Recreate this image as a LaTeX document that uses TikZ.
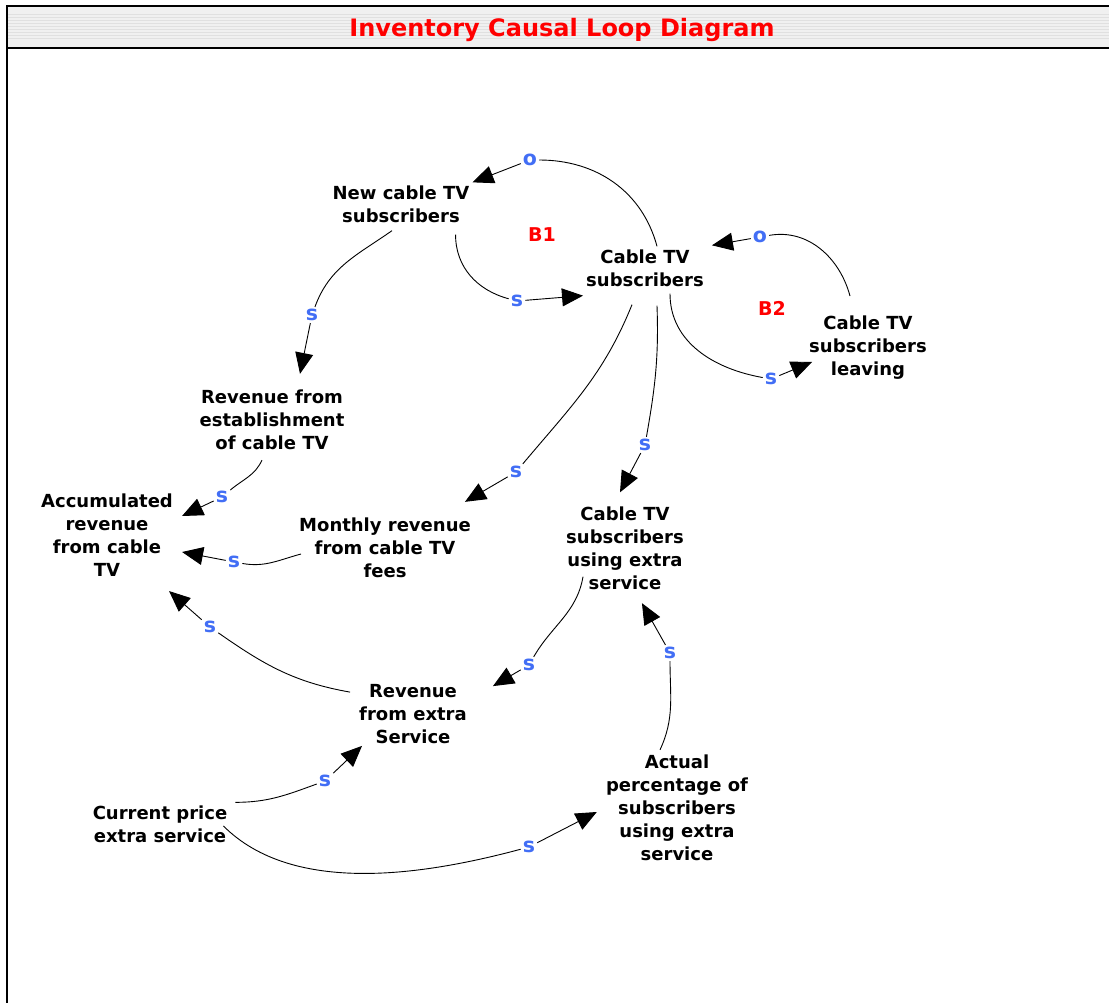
\documentclass[tikz,border=0pt]{standalone}
\usepackage{fontspec}
\setmainfont{DejaVu Sans}
\usetikzlibrary{calc,arrows.meta}
\definecolor{polblue}{RGB}{66,110,245}

\begin{document}
\begin{tikzpicture}[x=1pt,y=1pt,
    var/.style={font=\bfseries\fontsize{18}{23}\selectfont, align=center, inner sep=3pt},
    pol/.style={font=\bfseries\fontsize{20.5}{20.5}\selectfont, text=polblue, inner sep=2pt},
    loopname/.style={font=\bfseries\fontsize{19}{19}\selectfont, text=red},
    link/.style={line width=0.9pt},
    >={Triangle[length=21pt,width=18pt]}]
  \useasboundingbox (0,0) rectangle (1109,-1003);

  % title bar
  \fill[gray!12] (7,-6) rectangle (1109,-48);
  \foreach \y in {14,17,...,38}
    \draw[gray!24, line width=0.6pt] (7,-\y) -- (1109,-\y);
  \draw[line width=1.2pt] (7,-6) -- (1109,-6);
  \draw[line width=2pt] (7,-48) -- (1109,-48);
  \draw[line width=2pt] (7,-5.5) -- (7,-1003);
  \node[font=\bfseries\fontsize{24}{24}\selectfont, text=red] (title) at (562,-30) {Inventory Causal Loop Diagram};

  % variables
  \node[var] (nct) at (401,-204) {New cable TV\\subscribers};
  \node[var] (cts) at (645,-268) {Cable TV\\subscribers};
  \node[var] (leave) at (868,-348) {Cable TV\\subscribers\\leaving};
  \node[var] (rest) at (272,-420) {Revenue from\\establishment\\of cable TV};
  \node[var] (acc) at (107,-535) {Accumulated\\revenue\\from cable\\TV};
  \node[var] (mon) at (385,-548) {Monthly revenue\\from cable TV\\fees};
  \node[var] (use) at (625,-548) {Cable TV\\subscribers\\using extra\\service};
  \node[var] (rext) at (413,-714) {Revenue\\from extra\\Service};
  \node[var] (cur) at (160,-824) {Current price\\extra service};
  \node[var] (act) at (677,-808) {Actual\\percentage of\\subscribers\\using extra\\service};

  % loops
  \node[loopname] (b1) at (542,-235) {B1};
  \node[loopname] (b2) at (772,-308) {B2};

  % polarities
  \node[pol] (p1) at (530,-160) {o};
  \node[pol] (p2) at (517,-301) {s};
  \node[pol] (p3) at (312,-315) {s};
  \node[pol] (p4) at (771,-379) {s};
  \node[pol] (p5) at (760,-237) {o};
  \node[pol] (p6) at (516,-472) {s};
  \node[pol] (p7) at (645,-445) {s};
  \node[pol] (p8) at (222,-497) {s};
  \node[pol] (p9) at (234,-562) {s};
  \node[pol] (p10) at (210,-627) {s};
  \node[pol] (p11) at (529,-665) {s};
  \node[pol] (p12) at (670,-653) {s};
  \node[pol] (p13) at (325,-781) {s};
  \node[pol] (p14) at (529,-847) {s};

  % links
  \draw[link] ($(cts.north)+(12,0)$) to[out=105,in=0] (p1);
  \draw[link,->] (p1) -- (nct.north east);
  \draw[link] ($(nct.south east)+(-17,-9)$) to[out=-90,in=165] (p2);
  \draw[link,->] (p2) -- ($(cts.south west)+(0,-6)$);
  \draw[link] ($(nct.south)+(-9,-5)$) to[out=-145,in=70] (p3);
  \draw[link,->] (p3) -- ($(rest.north)+(28,13)$);
  \draw[link] ($(cts.south)+(25,-4)$) to[out=-90,in=170] (p4);
  \draw[link,->] (p4) -- ($(leave.south west)+(6,21)$);
  \draw[link] ($(leave.north)+(-18,17)$) to[out=105,in=10] (p5);
  \draw[link,->] (p5) -- ($(cts.north east)+(5,1)$);
  \draw[link] ($(cts.south)+(-13,-15)$) to[out=-112,in=50] (p6);
  \draw[link,->] (p6) -- ($(mon.north east)+(-9,13)$);
  \draw[link] ($(cts.south)+(12,-16)$) to[out=-88,in=80] (p7);
  \draw[link,->] (p7) -- ($(use.north)+(-5,11)$);
  \draw[link] ($(rest.south)+(-10,-7)$) to[out=-115,in=40] (p8);
  \draw[link,->] (p8) -- ($(acc.east)+(6,19)$);
  \draw[link] ($(mon.west)+(5,-6)$) to[out=-165,in=-10] (p9);
  \draw[link,->] (p9) -- ($(acc.east)+(6,-17)$);
  \draw[link] ($(rext.north west)+(-6,-11)$) to[out=170,in=-35] (p10);
  \draw[link,->] (p10) -- ($(acc.south east)+(-7,-11.5)$);
  \draw[link] ($(use.south west)+(20,16)$) to[out=-100,in=60] (p11);
  \draw[link,->] (p11) -- ($(rext.north east)+(23,-5)$);
  \draw[link] ($(act.north)+(-17,2)$) to[out=65,in=-90] (p12);
  \draw[link,->] (p12) -- ($(use.south east)+(-45,-10.5)$);
  \draw[link] ($(cur.north east)+(5,0)$) to[out=0,in=-160] (p13);
  \draw[link,->] (p13) -- ($(rext.south west)+(6,1)$);
  \draw[link] ($(cur.east)+(-7,-2)$) to[out=-45,in=-165,looseness=0.85] (p14);
  \draw[link,->] (p14) -- ($(act.west)+(-6,-4)$);
\end{tikzpicture}
\end{document}
